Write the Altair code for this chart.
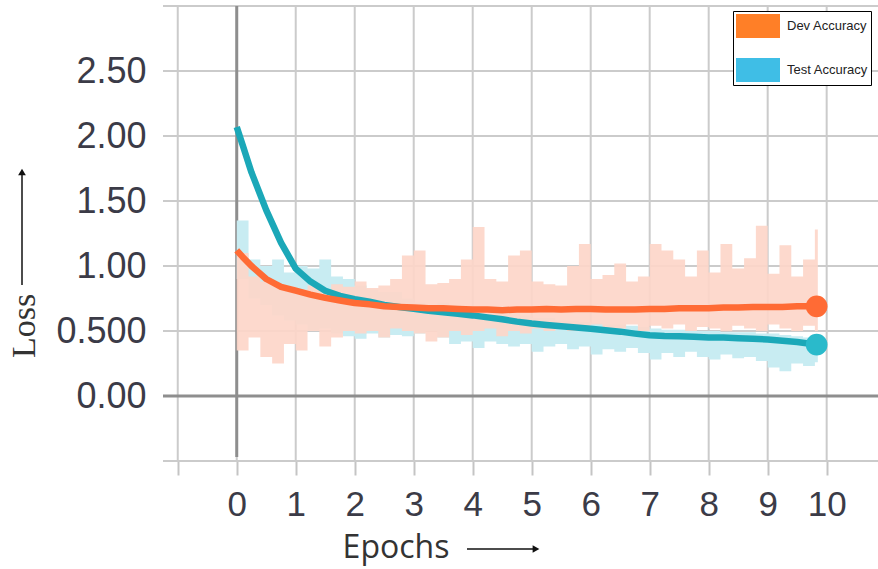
import altair as alt
import pandas as pd

# ---------------- data ----------------
grid_x = [-1, 0, 1, 2, 3, 4, 5, 6, 7, 8, 9, 10]
grid_y = [-0.5, 0, 0.5, 1.0, 1.5, 2.0, 2.5, 3.0]
label_y = [0, 0.5, 1.0, 1.5, 2.0, 2.5]

# raw (noisy) envelopes, every 0.2 epoch
raw_x = [0.0, 0.2, 0.4, 0.6, 0.8, 1.0, 1.2, 1.4, 1.6, 1.8,
         2.0, 2.2, 2.4, 2.6, 2.8, 3.0, 3.2, 3.4, 3.6, 3.8,
         4.0, 4.2, 4.4, 4.6, 4.8, 5.0, 5.2, 5.4, 5.6, 5.8,
         6.0, 6.2, 6.4, 6.6, 6.8, 7.0, 7.2, 7.4, 7.6, 7.8,
         8.0, 8.2, 8.4, 8.6, 8.8, 9.0, 9.2, 9.4, 9.6, 9.8, 9.85]
dev_hi = [1.10, 0.92, 0.88, 0.86, 0.84, 0.82, 0.85, 0.82, 0.86, 0.84,
          0.88, 0.83, 0.85, 0.90, 1.08, 1.12, 0.86, 0.87, 0.90, 1.05,
          1.30, 0.90, 0.88, 1.08, 1.12, 0.88, 0.86, 0.85, 1.00, 1.17,
          0.90, 0.93, 1.02, 0.88, 0.92, 1.17, 1.12, 1.05, 0.92, 1.12,
          0.95, 1.17, 0.98, 1.06, 1.31, 0.94, 1.16, 0.92, 1.05, 1.28, 1.28]
dev_lo = [0.35, 0.45, 0.30, 0.25, 0.40, 0.35, 0.50, 0.38, 0.45, 0.50,
          0.48, 0.50, 0.45, 0.52, 0.50, 0.48, 0.42, 0.45, 0.50, 0.47,
          0.50, 0.52, 0.46, 0.50, 0.48, 0.52, 0.50, 0.54, 0.50, 0.52,
          0.55, 0.50, 0.52, 0.55, 0.50, 0.54, 0.52, 0.55, 0.50, 0.53,
          0.52, 0.50, 0.54, 0.52, 0.50, 0.55, 0.52, 0.50, 0.54, 0.50, 0.50]
test_hi = [1.35, 1.05, 1.00, 1.05, 0.95, 1.00, 0.98, 1.05, 0.92, 0.90,
           0.85, 0.82, 0.80, 0.80, 0.75, 0.72, 0.70, 0.72, 0.70, 0.68,
           0.68, 0.66, 0.65, 0.64, 0.62, 0.60, 0.60, 0.58, 0.58, 0.57,
           0.56, 0.55, 0.55, 0.54, 0.53, 0.52, 0.51, 0.51, 0.50, 0.50,
           0.50, 0.49, 0.49, 0.49, 0.48, 0.48, 0.47, 0.46, 0.45, 0.44, 0.44]
test_lo = [0.90, 0.75, 0.70, 0.62, 0.58, 0.55, 0.50, 0.52, 0.48, 0.46,
           0.44, 0.48, 0.45, 0.47, 0.46, 0.48, 0.50, 0.45, 0.40, 0.42,
           0.37, 0.42, 0.40, 0.38, 0.40, 0.34, 0.38, 0.40, 0.36, 0.38,
           0.32, 0.36, 0.34, 0.37, 0.33, 0.28, 0.33, 0.30, 0.34, 0.30,
           0.28, 0.32, 0.29, 0.30, 0.27, 0.22, 0.19, 0.25, 0.23, 0.26, 0.26]

# smoothed curves
smooth_x = [0, 0.1, 0.25, 0.5, 0.75, 1.0, 1.25, 1.5, 1.75, 2.0,
            2.25, 2.5, 2.75, 3.0, 3.25, 3.5, 3.75, 4.0, 4.25, 4.5,
            4.75, 5.0, 5.25, 5.5, 5.75, 6.0, 6.25, 6.5, 6.75, 7.0,
            7.25, 7.5, 7.75, 8.0, 8.25, 8.5, 8.75, 9.0, 9.25, 9.5,
            9.75, 9.83]
dev_smooth = [1.12, 1.07, 1.00, 0.90, 0.84, 0.81, 0.78, 0.755, 0.735, 0.715,
              0.705, 0.69, 0.685, 0.68, 0.675, 0.675, 0.67, 0.665, 0.665, 0.66,
              0.665, 0.665, 0.67, 0.665, 0.67, 0.67, 0.665, 0.665, 0.665, 0.67,
              0.67, 0.675, 0.675, 0.675, 0.68, 0.68, 0.685, 0.685, 0.685, 0.69,
              0.69, 0.69]
test_smooth = [2.07, 1.93, 1.72, 1.43, 1.18, 0.98, 0.88, 0.81, 0.77, 0.745,
               0.725, 0.70, 0.685, 0.67, 0.655, 0.645, 0.632, 0.62, 0.605, 0.59,
               0.572, 0.557, 0.547, 0.537, 0.527, 0.517, 0.505, 0.495, 0.48, 0.467,
               0.462, 0.46, 0.455, 0.45, 0.45, 0.445, 0.44, 0.435, 0.425, 0.415,
               0.40, 0.395]

series = ["Dev Accuracy", "Test Accuracy"]
legend_colors = ["#FF7F27", "#3FBEE6"]

# ---------------- frames ----------------
raw = pd.DataFrame({"x": raw_x, "dev_hi": dev_hi, "dev_lo": dev_lo,
                    "test_hi": test_hi, "test_lo": test_lo})
smooth = pd.DataFrame({"x": smooth_x, "dev": dev_smooth, "test": test_smooth})
ends = pd.DataFrame({"x": [smooth_x[-1], smooth_x[-1]],
                     "y": [dev_smooth[-1], test_smooth[-1]],
                     "c": ["#FF6B35", "#2ABACB"]})
gx = pd.DataFrame({"v": grid_x})
gy = pd.DataFrame({"v": grid_y})
leg = pd.DataFrame({"s": series, "x": [5, 5], "y": [1, 1]})

xs = alt.Scale(domain=[-1.25, 10.87], nice=False, zero=False)
ys = alt.Scale(domain=[-0.5, 3.0], nice=False, zero=False)

LABEL_FONT = "Liberation Sans"
LABEL_COLOR = "#3b3b47"

x_axis = alt.Axis(values=grid_x, labelExpr="datum.value < 0 ? '' : datum.label",
                  format="d", tickColor="#c4c4c4", tickWidth=2, tickSize=14,
                  domain=False, grid=False, labelFontSize=35, labelFont=LABEL_FONT,
                  labelColor=LABEL_COLOR, labelPadding=12, title=None)
y_axis = alt.Axis(values=label_y,
                  labelExpr="datum.value == 0.5 ? '0.500' : format(datum.value, '.2f')",
                  ticks=False, domain=False, grid=False, labelFontSize=36,
                  labelFont=LABEL_FONT, labelColor=LABEL_COLOR, labelPadding=17,
                  title=None)


def X(field):
    return alt.X(field, scale=xs, axis=x_axis)


def Y(field):
    return alt.Y(field, scale=ys, axis=y_axis)


vgrid = alt.Chart(gx).mark_rule(color="#cbcbcb", strokeWidth=2).encode(x=X("v:Q"))
hgrid = alt.Chart(gy).mark_rule(color="#cbcbcb", strokeWidth=2).encode(y=Y("v:Q"))

zero_v = alt.Chart(pd.DataFrame({"x": [0], "y": [-0.47], "y2": [3.0]})).mark_rule(
    color="#8e8e8e", strokeWidth=3).encode(x=X("x:Q"), y=Y("y:Q"), y2="y2:Q")
zero_h = alt.Chart(pd.DataFrame({"y": [0]})).mark_rule(
    color="#8e8e8e", strokeWidth=3).encode(y=Y("y:Q"))

test_raw = alt.Chart(raw).mark_area(interpolate="step-after", color="#c8ecf2").encode(
    x=X("x:Q"), y=Y("test_lo:Q"), y2="test_hi:Q")
dev_raw = alt.Chart(raw).mark_area(interpolate="step-after", color="#fdd6c9",
                                   opacity=0.92).encode(
    x=X("x:Q"), y=Y("dev_lo:Q"), y2="dev_hi:Q")

test_line = alt.Chart(smooth).mark_line(color="#1BA8B8", strokeWidth=6.5,
                                        strokeJoin="round").encode(
    x=X("x:Q"), y=Y("test:Q"))
dev_line = alt.Chart(smooth).mark_line(color="#FF6B35", strokeWidth=6.5,
                                       strokeJoin="round").encode(
    x=X("x:Q"), y=Y("dev:Q"))

end_dots = alt.Chart(ends).mark_point(filled=True, size=470, opacity=1).encode(
    x=X("x:Q"), y=Y("y:Q"), fill=alt.Fill("c:N", scale=None))

legend_layer = alt.Chart(leg).mark_point(filled=True, opacity=0).encode(
    x=X("x:Q"), y=Y("y:Q"),
    color=alt.Color("s:N", scale=alt.Scale(domain=series, range=legend_colors),
                    legend=alt.Legend(orient="none", legendX=570, legendY=5, title=None,
                                      symbolType="M-1,-1H2.6667V1H-1Z",
                                      symbolSize=576, symbolStrokeWidth=0,
                                      symbolOpacity=1, labelFontSize=13,
                                      labelFont=LABEL_FONT, labelColor="#222222",
                                      labelOffset=27, rowPadding=20, padding=3,
                                      strokeColor="black", fillColor="white")))

# titles with long arrows
epochs_txt = alt.Chart(pd.DataFrame({"t": ["Epochs"]})).mark_text(
    font="Open Sans", fontSize=32, color="#333333", align="center",
    baseline="middle").encode(text="t:N", x=alt.value(233), y=alt.value(542))
epochs_arrow = alt.Chart(pd.DataFrame({"a": [1]})).mark_rule(
    color="#111111", strokeWidth=1.5).encode(x=alt.value(304), x2=alt.value(370),
                                             y=alt.value(543))
epochs_head = alt.Chart(pd.DataFrame({"a": [1]})).mark_point(
    shape="triangle-right", filled=True, color="#111111", size=60, opacity=1).encode(
    x=alt.value(373), y=alt.value(543))

loss_txt = alt.Chart(pd.DataFrame({"t": ["Loss"]})).mark_text(
    font="Liberation Serif", fontSize=34, color="#333333", align="center",
    baseline="middle", angle=270).encode(text="t:N", x=alt.value(-138), y=alt.value(320))
loss_arrow = alt.Chart(pd.DataFrame({"a": [1]})).mark_rule(
    color="#111111", strokeWidth=1.5).encode(x=alt.value(-141), y=alt.value(279),
                                             y2=alt.value(169))
loss_head = alt.Chart(pd.DataFrame({"a": [1]})).mark_point(
    shape="triangle-up", filled=True, color="#111111", size=60, opacity=1).encode(
    x=alt.value(-141), y=alt.value(166))

chart = alt.layer(
    vgrid, hgrid, zero_v, zero_h, test_raw, dev_raw, test_line, dev_line, end_dots,
    legend_layer, epochs_txt, epochs_arrow, epochs_head, loss_txt, loss_arrow, loss_head
).properties(
    width=715, height=455,
    autosize=alt.AutoSizeParams(type="none"),
    padding={"left": 163, "top": 6, "right": 0, "bottom": 108},
    background="white"
).configure_view(stroke=None)

chart.save("out.html", embed_options={"renderer": "svg", "actions": False})
